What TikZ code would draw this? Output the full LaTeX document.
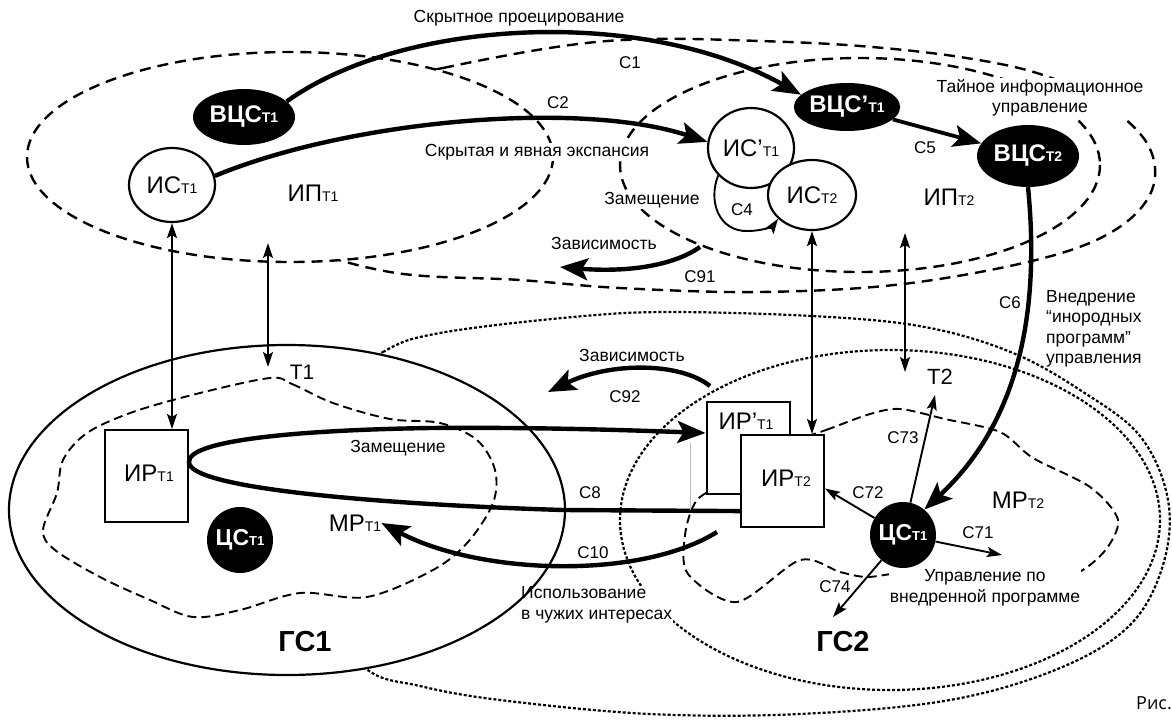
\documentclass[tikz,border=0pt]{standalone}
\usepackage{fontspec}
\setmainfont{Liberation Sans}
\newfontfamily\risfont{Open Sans}
\usetikzlibrary{arrows.meta,calc,shapes.geometric}
\newcommand\subR[2]{{\fontsize{24}{24}\selectfont #1}{\fontsize{14}{14}\selectfont #2}}
\newcommand\subB[2]{{\fontsize{24}{24}\selectfont\bfseries #1}{\fontsize{14}{14}\selectfont\bfseries #2}}
\newcommand\subC[2]{{\fontsize{23}{23}\selectfont\bfseries #1}{\fontsize{13}{13}\selectfont\bfseries #2}}
\begin{document}
\begin{tikzpicture}[x=1pt,y=-1pt,
  bighead/.style={-{Stealth[length=28pt,width=22pt,inset=6pt]}},
  smallhead/.style={-{Stealth[length=15pt,width=10pt,inset=3pt]}},
  dbl/.style={{Stealth[length=15pt,width=10pt,inset=3pt]}-{Stealth[length=15pt,width=10pt,inset=3pt]}},
  thickc/.style={line width=4.4pt},
  thinc/.style={line width=1.9pt},
  ipdash/.style={line width=2.4pt, dash pattern=on 11pt off 7pt},
  gdot/.style={line width=2.2pt, dash pattern=on 3pt off 2pt},
  tdash/.style={line width=1.9pt, dash pattern=on 9pt off 5pt},
  blkell/.style={ellipse, fill=black, text=white, inner sep=0pt},
  whtell/.style={ellipse, draw, line width=2.2pt, fill=white, inner sep=0pt},
  blkcirc/.style={circle, fill=black, text=white, inner sep=0pt, minimum size=66pt},
  irbox/.style={rectangle, draw, line width=2pt, fill=white, minimum width=83pt, minimum height=92pt, inner sep=0pt},
  clbl/.style={font=\fontsize{17}{17}\selectfont, inner sep=1pt},
  ttxt/.style={font=\fontsize{17.5}{20.5}\selectfont, inner sep=1pt, align=center},
  wtxt/.style={ttxt, fill=white},
  nlbl/.style={inner sep=0pt},
  gsl/.style={font=\fontsize{29}{29}\selectfont\bfseries, inner sep=0pt},
]
\useasboundingbox (0,0) rectangle (1172,720);
\fill[white] (0,0) rectangle (1172,720);

% outer dashed contour (top)
\draw[ipdash] plot[smooth cycle, tension=0.6] coordinates {
 (330,95) (443,68) (563,46) (650,39) (760,41) (860,46) (960,57) (1040,74) (1105,104) (1148,145)
 (1152,190) (1115,230) (1040,259) (903,284) (760,292) (620,288) (520,280) (390,272) (300,240) (260,170)};
% IP_T1
\draw[ipdash, fill=white] (290,157) ellipse [x radius=263, y radius=105];
% IP_T2
\draw[ipdash] (860,165) ellipse [x radius=240, y radius=107];

% outer dotted contour (bottom)
\draw[gdot] plot[smooth cycle, tension=0.6] coordinates {
 (320,400) (383,352) (440,333) (573,317) (673,312) (830,317) (930,328) (1013,353) (1080,390) (1140,436)
 (1168,500) (1163,565) (1130,625) (1060,668) (950,700) (800,714) (650,714) (500,700) (420,686) (365,668) (310,600)};
% GS1 white interior
\fill[white] (287,510) ellipse [x radius=278, y radius=165];
% GS2 inner dotted
\draw[gdot] (890,520) ellipse [x radius=270, y radius=170];

% T1 region
\draw[tdash] plot[smooth cycle, tension=0.55] coordinates {
 (270,378) (292,384) (333,403) (390,419) (440,423) (477,440) (495,470) (493,503) (468,542) (433,570)
 (367,597) (300,593) (240,610) (193,617) (150,600) (100,577) (55,550) (43,530) (57,493) (63,460)
 (87,433) (133,412) (200,393)};
% T2 region
\draw[tdash] plot[smooth cycle, tension=0.5] coordinates {
 (770,450) (826,430) (870,414) (900,409) (945,419) (1000,432) (1033,458) (1090,487) (1118,520) (1103,553)
 (1067,577) (1000,578) (930,575) (900,573) (867,577) (840,572) (800,560) (737,602) (688,574) (685,535)
 (697,500) (730,480)};

% texts
\node[ttxt] (tproj) at (519,18) {Скрытное проецирование};
\node[wtxt] (texp) at (537,152) {Скрытая и явная экспансия};
\node[wtxt] (ttai) at (1040,98) {Тайное информационное\\управление};
\node[wtxt] (tzam1) at (652,200) {Замещение};
\node[ttxt] (tzav1) at (604,243) {Зависимость};
\node[ttxt] (tzav2) at (632,355) {Зависимость};
\node[ttxt] (tzam2) at (398,448) {Замещение};
\node[wtxt, align=left, anchor=west] (tisp) at (520,605) {Использование\\в чужих интересах};
\node[ttxt, align=left, anchor=west] (tvn) at (1045,329) {Внедрение\\“инородных\\программ”\\управления};
\node[wtxt] (tupr) at (985,588) {Управление по\\внедренной программе};

% GS1 outline
\draw[line width=2.2pt] (287,510) ellipse [x radius=278, y radius=165];

% region labels
\node[nlbl] (ip1) at (313,193) {\subR{ИП}{Т1}};
\node[nlbl] (ip2) at (949,197) {\subR{ИП}{Т2}};
\node[nlbl] (mr1) at (355,523) {\subR{МР}{Т1}};
\node[nlbl] (mr2) at (1018,500) {\subR{МР}{Т2}};
\node[nlbl, font=\fontsize{21}{21}\selectfont] (t1) at (302,372) {Т1};
\node[nlbl, font=\fontsize{22}{22}\selectfont] (t2) at (940,377) {Т2};
\node[gsl] (gs1) at (305,642) {ГС1};
\node[gsl] (gs2) at (843,642) {ГС2};

% nodes
\node[blkell, minimum width=102pt, minimum height=56pt] (vcs1) at (244,117) {\subB{ВЦС}{Т1}};
\node[whtell, minimum width=86pt, minimum height=74pt] (is1) at (172,185) {\subR{ИС}{Т1}};
\node[whtell, minimum width=86pt, minimum height=80pt] (is1p) at (751,148) {\subR{ИС’}{Т1}};
\node[whtell, minimum width=88pt, minimum height=70pt] (is2) at (812,195) {\subR{ИС}{Т2}};
\node[blkell, minimum width=100pt, minimum height=48pt] (vcs1p) at (847,107) {\subB{ВЦС’}{Т1}};
\node[blkell, minimum width=102pt, minimum height=62pt] (vcs2) at (1028,156) {\subB{ВЦС}{Т2}};

\node[irbox] (ir1) at (146.5,476) {};
\node[nlbl] (ir1l) at (149,473) {\subR{ИР}{Т1}};
\node[irbox] (irp) at (748,448) {};
\node[nlbl] (irpl) at (746,421) {\subR{ИР’}{Т1}};
\node[irbox] (ir2) at (782.5,481) {};
\node[nlbl] (ir2l) at (786,478) {\subR{ИР}{Т2}};

\node[blkcirc] (cs1) at (240,540) {\subC{ЦС}{Т1}};
\node[blkcirc] (cs2) at (903,535) {\subC{ЦС}{Т1}};

% free-end coordinates
\coordinate (v2a) at (268,243);
\coordinate (v2b) at (268,367);
\coordinate (v4a) at (905,233);
\coordinate (v4b) at (905,372);
\coordinate (c91s) at (700,247);
\coordinate (c91e) at (560,267);
\coordinate (c92s) at (710,386);
\coordinate (c92e) at (548,392);
\coordinate (c10s) at (717,532);
\coordinate (c73e) at (935,395);
\coordinate (c71e) at (1002,555);
\coordinate (c74e) at (833,617);
\coordinate (g1) at (690,443);
\coordinate (g2) at (690,510);
\coordinate (c8s) at ($(ir2.south west)!0.18!(ir2.north west)$);
\coordinate (c8e) at ($(irp.south west)!0.66!(irp.north west)$);
\coordinate (c8tip) at ($(ir1.south east)!0.65!(ir1.north east)$);
\coordinate (c72e) at ($(ir2.south east)!0.42!(ir2.north east)$);

% connectors
\draw[thickc, bighead] (vcs1.20) .. controls (400,20) and (640,5) .. (vcs1p.165);
\draw[thickc, bighead] (is1.12) .. controls (350,120) and (580,100) .. (is1p.172);
\draw[line width=3.8pt, bighead] (vcs1p) -- (vcs2);
\draw[thickc, bighead] (vcs2.south) .. controls (1042,330) and (1010,430) .. (cs2.50);
\draw[thinc, smallhead] (is1p.220) .. controls (708,200) and (718,232) .. (748,231) .. controls (762,231) and (773,226) .. (is2.215);
\draw[thickc, bighead] (c91s) .. controls (670,268) and (620,272) .. (c91e);
\draw[thickc, bighead] (c92s) .. controls (680,362) and (610,362) .. (c92e);
\draw[thickc, bighead] (c8s) -- (563,510) .. controls (400,505) and (188,490) .. (c8tip)
   .. controls (188,440) and (300,430) .. (430,428) .. controls (550,427) and (650,431) .. (c8e);
\draw[thickc, bighead] (c10s) .. controls (640,580) and (480,575) .. (mr1.east);
\draw[gray!50, line width=0.8pt] (g1) -- (g2);

\draw[thinc, dbl] (is1.south) -- (is1.south |- ir1.north);
\draw[thinc, dbl] (v2a) -- (v2b);
\draw[thinc, dbl] (is2.south) -- (is2.south |- ir2.north);
\draw[thinc, dbl] (v4a) -- (v4b);

\draw[thinc, smallhead] (cs2) -- (c72e);
\draw[thinc, smallhead] (cs2) -- (c73e);
\draw[thinc, smallhead] (cs2) -- (c71e);
\draw[thinc, smallhead] (cs2) -- (c74e);

% connector labels
\node[clbl] (lc1) at (630,63) {С1};
\node[clbl] (lc2) at (558,103) {С2};
\node[clbl] (lc4) at (742,210) {С4};
\node[clbl] (lc5) at (925,148) {С5};
\node[clbl] (lc6) at (1010,303) {С6};
\node[clbl] (lc8) at (590,493) {С8};
\node[clbl] (lc10) at (593,553) {С10};
\node[clbl] (lc91) at (700,277) {С91};
\node[clbl] (lc92) at (625,397) {С92};
\node[clbl] (lc71) at (978,533) {С71};
\node[clbl] (lc72) at (868,493) {С72};
\node[clbl] (lc73) at (903,438) {С73};
\node[clbl] (lc74) at (835,587) {С74};

\node[font=\risfont\fontsize{18}{18}\selectfont, anchor=east, inner sep=0pt] (ris) at (1172,703) {Рис.};
\end{tikzpicture}
\end{document}
